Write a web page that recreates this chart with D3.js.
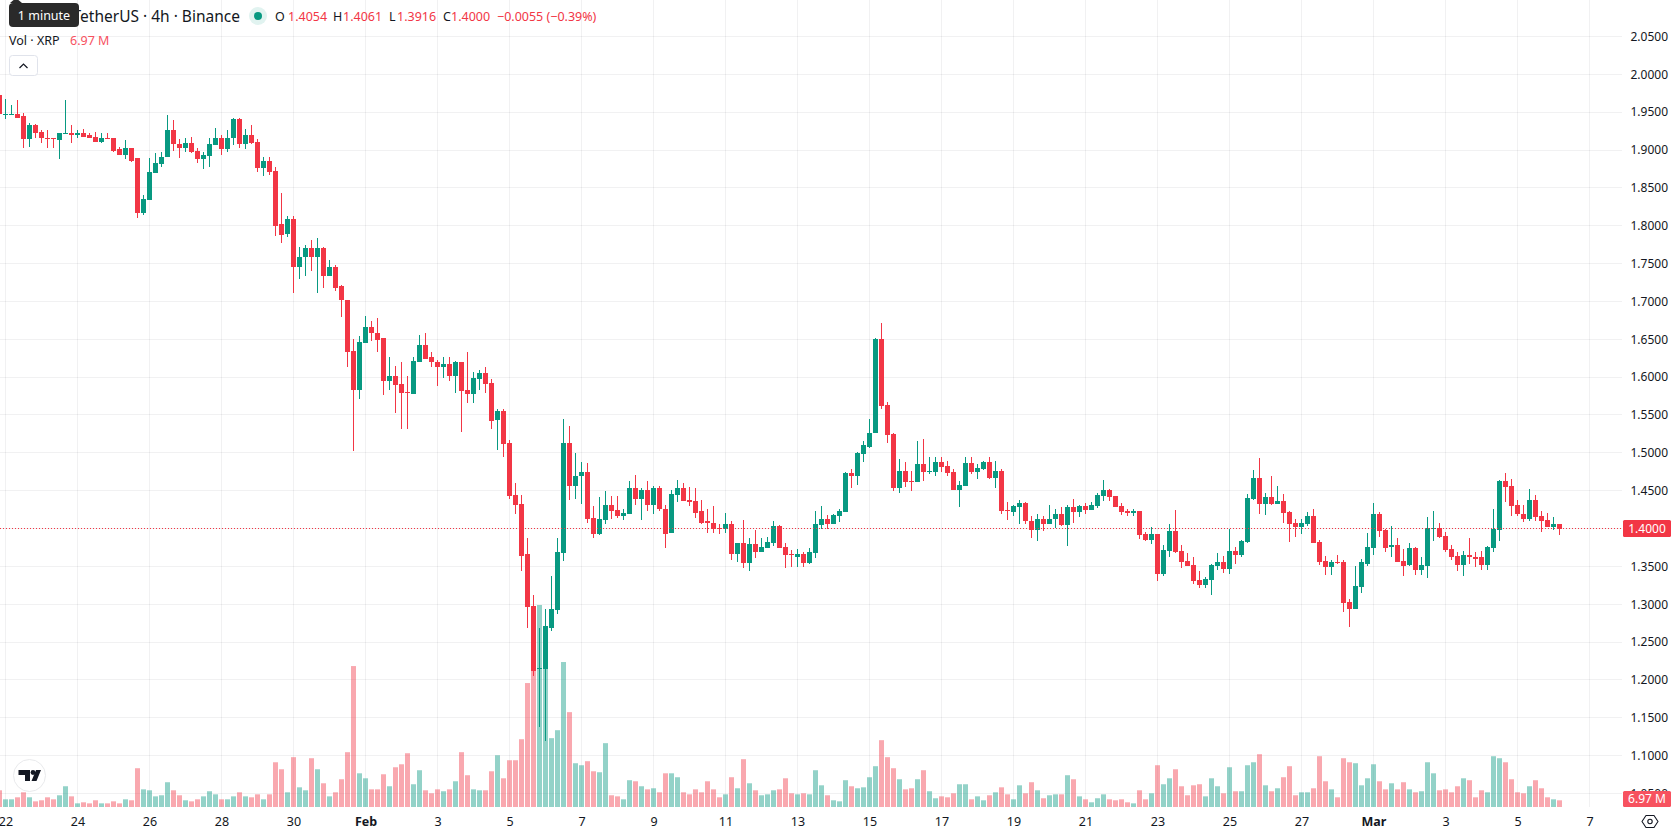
<!DOCTYPE html>
<html>
<head>
<meta charset="utf-8">
<script src="https://cdn.jsdelivr.net/npm/d3@7/dist/d3.min.js"></script>
<style>
  html, body { margin: 0; padding: 0; background: #fff; overflow: hidden; }
  svg { display: block; font-family: "Noto Sans", "Open Sans", sans-serif; }
</style>
</head>
<body>
<svg id="chart" width="1678" height="835"></svg>
<script>
// XRP / USDT, 4-hour candles, first entry sits just off the left edge of the pane.
const firstBar = -1;

const opens = [
1.9733,1.9469,1.9475,1.9482,1.9443,1.9139,1.9324,1.9244,1.9165,1.9156,
1.9126,1.9205,1.9231,1.9192,1.9231,1.9192,1.9178,1.9112,1.9165,1.9152,
1.9007,1.8940,1.9020,1.8888,1.8174,1.8346,1.8690,1.8809,1.8901,1.9258,
1.9073,1.9033,1.9099,1.8993,1.8875,1.8927,1.9060,1.9165,1.9007,1.9152,
1.9416,1.9073,1.9192,1.9112,1.8756,1.8861,1.8716,1.8016,1.7884,1.8082,
1.7461,1.7580,1.7699,1.7580,1.7712,1.7342,1.7448,1.7197,1.7025,1.6351,
1.5823,1.6457,1.6668,1.6589,1.6510,1.5942,1.6008,1.5915,1.5809,1.5783,
1.6206,1.6430,1.6259,1.6206,1.6127,1.6179,1.6021,1.6193,1.5823,1.5783,
1.5980,1.6060,1.5928,1.5427,1.5546,1.5123,1.4436,1.4330,1.3657,1.2970,
1.2138,1.2138,1.2692,1.2917,1.3670,1.5136,1.4555,1.4687,1.4740,1.4145,
1.3921,1.4106,1.4317,1.4238,1.4159,1.4198,1.4529,1.4396,1.4515,1.4304,
1.4529,1.4264,1.3934,1.4449,1.4529,1.4370,1.4357,1.4225,1.4093,1.4079,
1.4013,1.3987,1.4053,1.3657,1.3802,1.3538,1.3789,1.3696,1.3749,1.3815,
1.4027,1.3762,1.3657,1.3630,1.3657,1.3538,1.3670,1.4040,1.4119,1.4066,
1.4159,1.4212,1.4727,1.4687,1.4978,1.5083,1.5255,1.6497,1.5625,1.5242,
1.4529,1.4753,1.4621,1.4608,1.4846,1.4740,1.4740,1.4885,1.4832,1.4740,
1.4515,1.4568,1.4859,1.4740,1.4780,1.4872,1.4661,1.4766,1.4238,1.4212,
1.4278,1.4331,1.4093,1.3974,1.4132,1.4066,1.4119,1.4198,1.4052,1.4290,
1.4224,1.4303,1.4250,1.4303,1.4435,1.4515,1.4435,1.4303,1.4237,1.4211,
1.4237,1.3933,1.3854,1.3933,1.3405,1.3709,1.3973,1.3709,1.3577,1.3524,
1.3326,1.3260,1.3326,1.3511,1.3564,1.3471,1.3709,1.3656,1.3828,1.4396,
1.4673,1.4330,1.4422,1.4330,1.4369,1.4224,1.4079,1.4026,1.4066,1.4171,
1.3828,1.3577,1.3498,1.3564,1.3564,1.3035,1.2930,1.3233,1.3537,1.3749,
1.4198,1.3986,1.3762,1.3788,1.3577,1.3524,1.3749,1.3458,1.3511,1.3999,
1.4013,1.3907,1.3735,1.3643,1.3524,1.3656,1.3630,1.3617,1.3524,1.3749,
1.3986,1.4634,1.4568,1.4317,1.4198,1.4119,1.4370,1.4171,1.4118,1.4026,
1.4054];

const highs = [
1.9780,1.9680,1.9600,1.9654,1.9495,1.9363,1.9337,1.9270,1.9258,1.9165,
1.9231,1.9654,1.9324,1.9270,1.9284,1.9218,1.9244,1.9218,1.9231,1.9165,
1.9046,1.9126,1.9033,1.8888,1.8412,1.8888,1.8954,1.8967,1.9456,1.9390,
1.9139,1.9165,1.9178,1.9033,1.8967,1.9165,1.9297,1.9192,1.9258,1.9429,
1.9429,1.9284,1.9324,1.9139,1.8901,1.8901,1.8782,1.8438,1.8134,1.8134,
1.7725,1.7751,1.7817,1.7844,1.7725,1.7553,1.7487,1.7223,1.7025,1.6497,
1.6549,1.6813,1.6747,1.6787,1.6523,1.6272,1.6153,1.6193,1.6008,1.6272,
1.6562,1.6576,1.6338,1.6232,1.6259,1.6259,1.6219,1.6193,1.6338,1.6061,
1.6100,1.6127,1.5981,1.5572,1.5572,1.5163,1.4595,1.4449,1.3868,1.3128,
1.2679,1.2943,1.3366,1.3881,1.5453,1.5348,1.4991,1.4885,1.4859,1.4291,
1.4410,1.4489,1.4423,1.4423,1.4264,1.4634,1.4713,1.4529,1.4634,1.4555,
1.4555,1.4304,1.4502,1.4647,1.4595,1.4542,1.4529,1.4370,1.4264,1.4291,
1.4053,1.4211,1.4093,1.3815,1.4106,1.3881,1.3974,1.3868,1.3894,1.4093,
1.4040,1.3802,1.3710,1.3723,1.3683,1.3736,1.4225,1.4291,1.4172,1.4185,
1.4264,1.4740,1.4780,1.5004,1.5150,1.5453,1.6510,1.6721,1.5665,1.5255,
1.4912,1.4872,1.4766,1.5150,1.5176,1.4951,1.4951,1.4938,1.4898,1.4780,
1.4634,1.4951,1.4938,1.4846,1.4898,1.4951,1.4898,1.4780,1.4344,1.4304,
1.4383,1.4344,1.4159,1.4198,1.4159,1.4304,1.4251,1.4290,1.4317,1.4396,
1.4317,1.4343,1.4356,1.4475,1.4647,1.4528,1.4435,1.4343,1.4264,1.4264,
1.4237,1.3960,1.4026,1.3933,1.3788,1.4066,1.4250,1.3788,1.3682,1.3630,
1.3432,1.3365,1.3537,1.3682,1.3643,1.4000,1.3762,1.3854,1.4462,1.4779,
1.4937,1.4475,1.4700,1.4568,1.4462,1.4237,1.4132,1.4132,1.4224,1.4264,
1.3854,1.3643,1.3590,1.3656,1.3590,1.3075,1.3511,1.3603,1.3934,1.4343,
1.4224,1.3999,1.4039,1.3868,1.3735,1.3815,1.3762,1.3630,1.4158,1.4237,
1.4079,1.3960,1.3788,1.3696,1.3709,1.3881,1.3696,1.3709,1.3775,1.4264,
1.4647,1.4739,1.4660,1.4370,1.4317,1.4528,1.4436,1.4237,1.4211,1.4158,
1.4061];

const lows = [
1.9469,1.9416,1.9470,1.9429,1.9020,1.9046,1.9165,1.9099,1.9033,1.9020,
1.8875,1.9205,1.9086,1.9165,1.9178,1.9152,1.9112,1.9099,1.9139,1.8980,
1.8940,1.8875,1.8848,1.8108,1.8135,1.8333,1.8690,1.8769,1.8901,1.8993,
1.8888,1.8980,1.8954,1.8822,1.8750,1.8769,1.9060,1.8940,1.8967,1.9060,
1.9020,1.9007,1.9073,1.8703,1.8663,1.8676,1.7870,1.7778,1.7857,1.7117,
1.7302,1.7342,1.7408,1.7117,1.7183,1.7329,1.7131,1.6800,1.6140,1.5030,
1.5717,1.6444,1.6483,1.6325,1.5770,1.5823,1.5532,1.5308,1.5321,1.5783,
1.6206,1.6245,1.6127,1.5889,1.5994,1.5955,1.5796,1.5281,1.5664,1.5664,
1.5836,1.5796,1.5308,1.5043,1.4951,1.4396,1.4185,1.3432,1.2692,1.2058,
1.1384,1.1190,1.2640,1.2864,1.3577,1.4383,1.4396,1.4330,1.4079,1.3868,
1.3908,1.4053,1.4132,1.4145,1.4106,1.4198,1.4304,1.4106,1.4225,1.4198,
1.4225,1.3736,1.3934,1.4344,1.4357,1.4291,1.4145,1.4066,1.3934,1.3947,
1.3921,1.3947,1.3590,1.3564,1.3472,1.3432,1.3604,1.3696,1.3736,1.3775,
1.3749,1.3472,1.3498,1.3498,1.3498,1.3525,1.3604,1.4000,1.3987,1.4053,
1.4080,1.4212,1.4529,1.4581,1.4885,1.5057,1.5255,1.5585,1.5123,1.4489,
1.4463,1.4542,1.4489,1.4608,1.4621,1.4714,1.4687,1.4740,1.4700,1.4502,
1.4278,1.4568,1.4714,1.4648,1.4767,1.4648,1.4529,1.4198,1.4106,1.4159,
1.4053,1.4066,1.3868,1.3829,1.3961,1.4066,1.4013,1.4039,1.3775,1.4079,
1.4158,1.4198,1.4250,1.4277,1.4369,1.4369,1.4290,1.4184,1.4171,1.4171,
1.3867,1.3841,1.3801,1.3313,1.3366,1.3630,1.3682,1.3484,1.3511,1.3273,
1.3220,1.3220,1.3128,1.3458,1.3418,1.3405,1.3537,1.3630,1.3815,1.4383,
1.4198,1.4184,1.4317,1.4330,1.4079,1.3828,1.3894,1.3933,1.4039,1.3815,
1.3524,1.3392,1.3392,1.3537,1.2903,1.2705,1.2930,1.3154,1.3511,1.3656,
1.3894,1.3683,1.3617,1.3551,1.3379,1.3511,1.3392,1.3392,1.3352,1.3841,
1.3868,1.3683,1.3590,1.3432,1.3379,1.3537,1.3498,1.3458,1.3458,1.3696,
1.3841,1.4356,1.4171,1.4171,1.4092,1.4105,1.4105,1.3960,1.4026,1.3986,
1.3916];

const closes = [
1.9469,1.9475,1.9482,1.9429,1.9139,1.9324,1.9231,1.9152,1.9152,1.9139,
1.9218,1.9231,1.9192,1.9231,1.9178,1.9165,1.9112,1.9165,1.9139,1.8993,
1.8940,1.9020,1.8861,1.8174,1.8359,1.8703,1.8822,1.8914,1.9258,1.9073,
1.9033,1.9099,1.8980,1.8875,1.8940,1.9073,1.9165,1.9007,1.9165,1.9416,
1.9073,1.9192,1.9099,1.8756,1.8861,1.8703,1.8002,1.7883,1.8082,1.7461,
1.7593,1.7699,1.7580,1.7712,1.7342,1.7448,1.7183,1.7012,1.6338,1.5823,
1.6470,1.6668,1.6576,1.6496,1.5942,1.6008,1.5902,1.5796,1.5796,1.6219,
1.6430,1.6245,1.6193,1.6127,1.6179,1.6021,1.6193,1.5810,1.5783,1.5994,
1.6060,1.5915,1.5426,1.5546,1.5110,1.4423,1.4317,1.3643,1.2957,1.2124,
1.2151,1.2706,1.2930,1.3696,1.5136,1.4555,1.4700,1.4740,1.4132,1.3921,
1.4119,1.4317,1.4225,1.4159,1.4211,1.4529,1.4396,1.4515,1.4304,1.4529,
1.4251,1.3921,1.4462,1.4529,1.4357,1.4344,1.4211,1.4079,1.4079,1.4000,
1.4000,1.4053,1.3657,1.3802,1.3538,1.3789,1.3696,1.3762,1.3828,1.4027,
1.3749,1.3644,1.3644,1.3657,1.3538,1.3683,1.4053,1.4119,1.4066,1.4172,
1.4225,1.4727,1.4687,1.4991,1.5097,1.5268,1.6497,1.5612,1.5229,1.4529,
1.4753,1.4608,1.4608,1.4846,1.4740,1.4753,1.4885,1.4819,1.4727,1.4515,
1.4581,1.4859,1.4740,1.4793,1.4872,1.4661,1.4766,1.4225,1.4225,1.4291,
1.4331,1.4093,1.3974,1.4132,1.4066,1.4132,1.4198,1.4052,1.4290,1.4224,
1.4303,1.4250,1.4317,1.4449,1.4502,1.4422,1.4290,1.4224,1.4211,1.4237,
1.3920,1.3854,1.3933,1.3405,1.3722,1.3973,1.3696,1.3564,1.3511,1.3313,
1.3260,1.3339,1.3524,1.3564,1.3471,1.3709,1.3656,1.3841,1.4409,1.4673,
1.4330,1.4422,1.4330,1.4369,1.4211,1.4066,1.4026,1.4079,1.4171,1.3815,
1.3564,1.3498,1.3564,1.3551,1.3022,1.2930,1.3247,1.3551,1.3762,1.4185,
1.3973,1.3749,1.3788,1.3564,1.3511,1.3749,1.3458,1.3524,1.4013,1.4013,
1.3894,1.3722,1.3630,1.3524,1.3656,1.3617,1.3603,1.3524,1.3762,1.3999,
1.4634,1.4554,1.4303,1.4185,1.4119,1.4370,1.4158,1.4105,1.4026,1.4066,
1.4000];

// Traded volume per candle, in millions of XRP.
const volumes = [
17.4,8.0,8.0,10.1,15.3,10.1,5.9,7.0,10.1,8.0,
12.2,21.6,11.1,3.8,4.9,3.8,7.0,3.8,3.8,5.9,
3.8,8.0,7.0,40.4,18.4,17.4,11.1,12.2,25.8,17.4,
12.2,7.0,5.9,8.0,11.1,16.4,13.2,8.0,8.0,11.1,
15.3,11.1,10.1,13.2,8.0,13.2,46.6,39.3,15.3,51.9,
20.5,17.4,50.8,39.3,24.7,11.1,15.3,28.9,57.1,146.8,
35.1,29.9,18.4,18.4,34.1,21.6,41.4,44.5,56.0,23.7,
38.3,17.4,14.3,18.4,16.4,18.4,26.8,57.1,33.1,18.4,
17.4,17.4,37.2,53.9,29.9,48.7,48.7,70.6,129.1,142.6,
210.4,143.7,71.7,80.0,151.0,98.8,45.6,43.5,47.7,37.2,
36.2,66.5,12.2,11.1,8.0,27.9,26.8,21.6,18.4,19.5,
15.3,35.1,35.1,31.0,15.3,13.2,18.4,15.3,26.8,18.4,
10.1,13.2,31.0,19.5,49.8,24.7,17.4,12.2,13.2,17.4,
18.4,29.9,14.3,13.2,14.3,13.2,38.3,22.6,12.2,7.0,
5.9,27.9,21.6,19.5,20.5,31.0,42.5,69.6,51.9,40.4,
28.9,18.4,19.5,28.9,38.3,16.4,9.1,11.1,10.1,14.3,
23.7,23.7,8.0,11.1,7.0,12.2,15.3,20.5,13.2,8.0,
22.6,14.3,25.8,17.4,9.1,12.2,13.2,13.2,33.1,28.9,
11.1,8.0,4.9,9.1,13.2,8.0,7.0,8.0,4.9,3.8,
17.4,8.0,14.3,43.5,23.7,29.9,39.3,21.6,12.2,22.6,
23.7,11.1,29.9,21.6,14.3,41.4,16.4,16.4,43.5,46.6,
55.0,22.6,16.4,19.5,31.0,42.5,12.2,15.3,15.3,19.5,
52.9,26.8,18.4,10.1,50.8,46.6,45.6,22.6,29.9,44.5,
26.8,18.4,24.7,18.4,25.8,18.4,15.3,16.4,46.6,35.1,
17.4,18.4,15.3,21.6,29.9,27.9,10.1,17.4,15.3,52.9,
50.8,46.6,28.9,15.3,14.3,21.6,27.9,19.5,10.1,8.0,
6.97];

// The 1.40 level is labelled by the last-price tag rather than by a plain tick.
const gridPrices = [2.05,2.00,1.95,1.90,1.85,1.80,1.75,1.70,1.65,1.60,1.55,1.50,1.45,1.40,1.35,1.30,1.25,1.20,1.15,1.10,1.05];
const dateLabels = ["22","24","26","28","30","Feb","3","5","7","9","11","13","15","17","19","21","23","25","27","Mar","3","5","7"];
const monthLabels = ["Feb","Mar"];
const barsPerLabel = 12;

const legendPrices = [["O","1.4054"],["H","1.4061"],["L","1.3916"],["C","1.4000"]];
const legendChange = "\u22120.0055 (\u22120.39%)";
const lastPrice = 1.4000;
const lastVolume = 6.97;

const upColor = "#089981", downColor = "#F23645";
const paneRight = 1622, paneBottom = 807;
const textColor = "#131722";

const svg = d3.select("#chart");
const bars = opens.map((o, k) => ({
  index: k + firstBar, open: o, high: highs[k], low: lows[k], close: closes[k], volume: volumes[k],
  up: closes[k] >= o
}));

// Bars advance six pixels each; index 0 is the first labelled date.
const x = d3.scaleLinear().domain([0, 100]).range([5.5, 605.5]);
const y = d3.scaleLinear().domain([1.40, 1.20]).range([528.5, 679.9]);
const yVol = d3.scaleLinear().domain([0, 210.4]).range([paneBottom, 605]);
const crisp = v => Math.floor(v) + 0.5;

const dateIndex = dateLabels.map((_, i) => i * barsPerLabel);

// Grid
const grid = svg.append("g").attr("stroke", "#2A2E39").attr("stroke-opacity", 0.065).attr("stroke-width", 1);
grid.selectAll(".gx").data(dateIndex).join("line")
  .attr("x1", d => x(d)).attr("x2", d => x(d)).attr("y1", 0).attr("y2", paneBottom);
grid.selectAll(".gy").data(gridPrices).join("line")
  .attr("x1", 0).attr("x2", paneRight).attr("y1", d => crisp(y(d))).attr("y2", d => crisp(y(d)));

// Volume columns sit under the candles
svg.append("g").selectAll("rect").data(bars).join("rect")
  .attr("x", d => x(d.index) - 2.5)
  .attr("width", 5)
  .attr("y", d => yVol(d.volume))
  .attr("height", d => paneBottom - yVol(d.volume))
  .attr("fill", d => d.up ? upColor : downColor)
  .attr("fill-opacity", d => d.up ? 0.44 : 0.43);

// Candles
const candles = svg.append("g").selectAll("g").data(bars).join("g")
  .attr("fill", d => d.up ? upColor : downColor);
candles.append("rect")
  .attr("x", d => x(d.index) - 0.5).attr("width", 1)
  .attr("y", d => Math.round(y(d.high)))
  .attr("height", d => Math.max(1, Math.round(y(d.low)) - Math.round(y(d.high))));
candles.append("rect")
  .attr("x", d => x(d.index) - 2.5).attr("width", 5)
  .attr("y", d => Math.round(y(Math.max(d.open, d.close))))
  .attr("height", d => Math.max(1, Math.round(y(Math.min(d.open, d.close))) - Math.round(y(Math.max(d.open, d.close)))));

// Last price marker line
svg.append("line")
  .attr("x1", 0).attr("x2", paneRight)
  .attr("y1", crisp(y(lastPrice))).attr("y2", crisp(y(lastPrice)))
  .attr("stroke", downColor).attr("stroke-width", 1).attr("stroke-dasharray", "1 2");

// Price axis
const axisPrices = gridPrices.filter(p => p !== lastPrice);
const priceAxis = d3.axisRight(y).tickValues(axisPrices).tickFormat(d3.format(".4f")).tickSize(0).tickPadding(9);
const gPrice = svg.append("g").attr("transform", `translate(${paneRight - 0.5},0)`).call(priceAxis);
gPrice.select(".domain").remove();
gPrice.selectAll("text").attr("font-size", 12).attr("fill", textColor)
  .attr("font-family", '"Noto Sans", sans-serif');

// Date axis
const dateAxis = d3.axisBottom(x).tickValues(dateIndex).tickFormat((d, i) => dateLabels[i]).tickSize(0).tickPadding(10);
const gDate = svg.append("g").attr("transform", `translate(0,${paneBottom})`).call(dateAxis);
gDate.select(".domain").remove();
gDate.selectAll("text").attr("font-size", 12.5).attr("fill", textColor)
  .attr("font-family", '"Noto Sans", sans-serif')
  .attr("font-weight", (d, i) => monthLabels.includes(dateLabels[i]) ? 700 : 400);

// Last price and last volume tags
function tag(yTop, h, text, fill) {
  svg.append("rect").attr("x", paneRight + 1).attr("y", yTop).attr("width", 48).attr("height", h).attr("rx", 1.5).attr("fill", fill);
  svg.append("text").attr("x", paneRight + 25).attr("y", yTop + h / 2 + 4.3).attr("text-anchor", "middle")
    .attr("font-size", 12).attr("fill", "#fff").text(text);
}
tag(crisp(y(lastPrice)) - 8.5, 17, d3.format(".4f")(lastPrice), "#F23645");
tag(791, 16, d3.format(".2f")(lastVolume) + " M", "#F7525F");

// Settings glyph in the axis corner
svg.append("path").attr("d", "M1646 815.5 L1654 815.5 L1658 821.5 L1654 827.5 L1646 827.5 L1642 821.5 Z")
  .attr("fill", "none").attr("stroke", textColor).attr("stroke-width", 1.1).attr("stroke-linejoin", "round");
svg.append("circle").attr("cx", 1650).attr("cy", 821.5).attr("r", 2.2).attr("fill", "none").attr("stroke", textColor).attr("stroke-width", 1.1);

// Watermark badge
svg.append("circle").attr("cx", 29.5).attr("cy", 775.5).attr("r", 16).attr("fill", "#fff").attr("stroke", "#E9EAEC").attr("stroke-width", 1);
svg.append("path").attr("d", "M18.5 770 H30 V781 H25 V775 H18.5 Z M36 770 H41 L36.5 781 H31.5 Z").attr("fill", textColor);
svg.append("circle").attr("cx", 33).attr("cy", 772.5).attr("r", 2.4).attr("fill", textColor);

// Legend
svg.append("text").attr("x", 240).attr("y", 21.5).attr("text-anchor", "end").attr("font-size", 15.5).attr("fill", textColor)
  .text("XRP / TetherUS \u00B7 4h \u00B7 Binance");
svg.append("circle").attr("cx", 258).attr("cy", 16).attr("r", 9).attr("fill", "#089981").attr("fill-opacity", 0.12);
svg.append("circle").attr("cx", 258).attr("cy", 16).attr("r", 4).attr("fill", "#089981");

const ohlcKeyX = [275, 333, 389, 443], ohlcValX = [288, 343, 397, 451];
legendPrices.forEach(([key, val], i) => {
  svg.append("text").attr("x", ohlcKeyX[i]).attr("y", 21).attr("font-size", 12.5).attr("fill", textColor).text(key);
  svg.append("text").attr("x", ohlcValX[i]).attr("y", 21).attr("font-size", 12.5).attr("fill", downColor).text(val);
});
svg.append("text").attr("x", 497).attr("y", 21).attr("font-size", 12.5).attr("fill", downColor).text(legendChange);

svg.append("text").attr("x", 9).attr("y", 45).attr("font-size", 12.5).attr("fill", textColor).text("Vol \u00B7 XRP");
svg.append("text").attr("x", 70).attr("y", 45).attr("font-size", 12.5).attr("fill", "#F7525F").text("6.97 M");

// Collapse button
svg.append("rect").attr("x", 9.5).attr("y", 55.5).attr("width", 28).attr("height", 20).attr("rx", 3).attr("fill", "#fff").attr("stroke", "#E0E3EB");
svg.append("path").attr("d", "M19.5 68 L23.5 64 L27.5 68").attr("fill", "none").attr("stroke", textColor).attr("stroke-width", 1.2);

// Hover tooltip over the symbol name
svg.append("path").attr("d", "M10 3 L16 -2 L22 3 Z").attr("fill", "#2A2A2A");
svg.append("rect").attr("x", 9).attr("y", 3).attr("width", 70).attr("height", 24).attr("rx", 4).attr("fill", "#2A2A2A");
svg.append("text").attr("x", 44).attr("y", 20).attr("text-anchor", "middle").attr("font-size", 12.5).attr("fill", "#fff").text("1 minute");
</script>
</body>
</html>
